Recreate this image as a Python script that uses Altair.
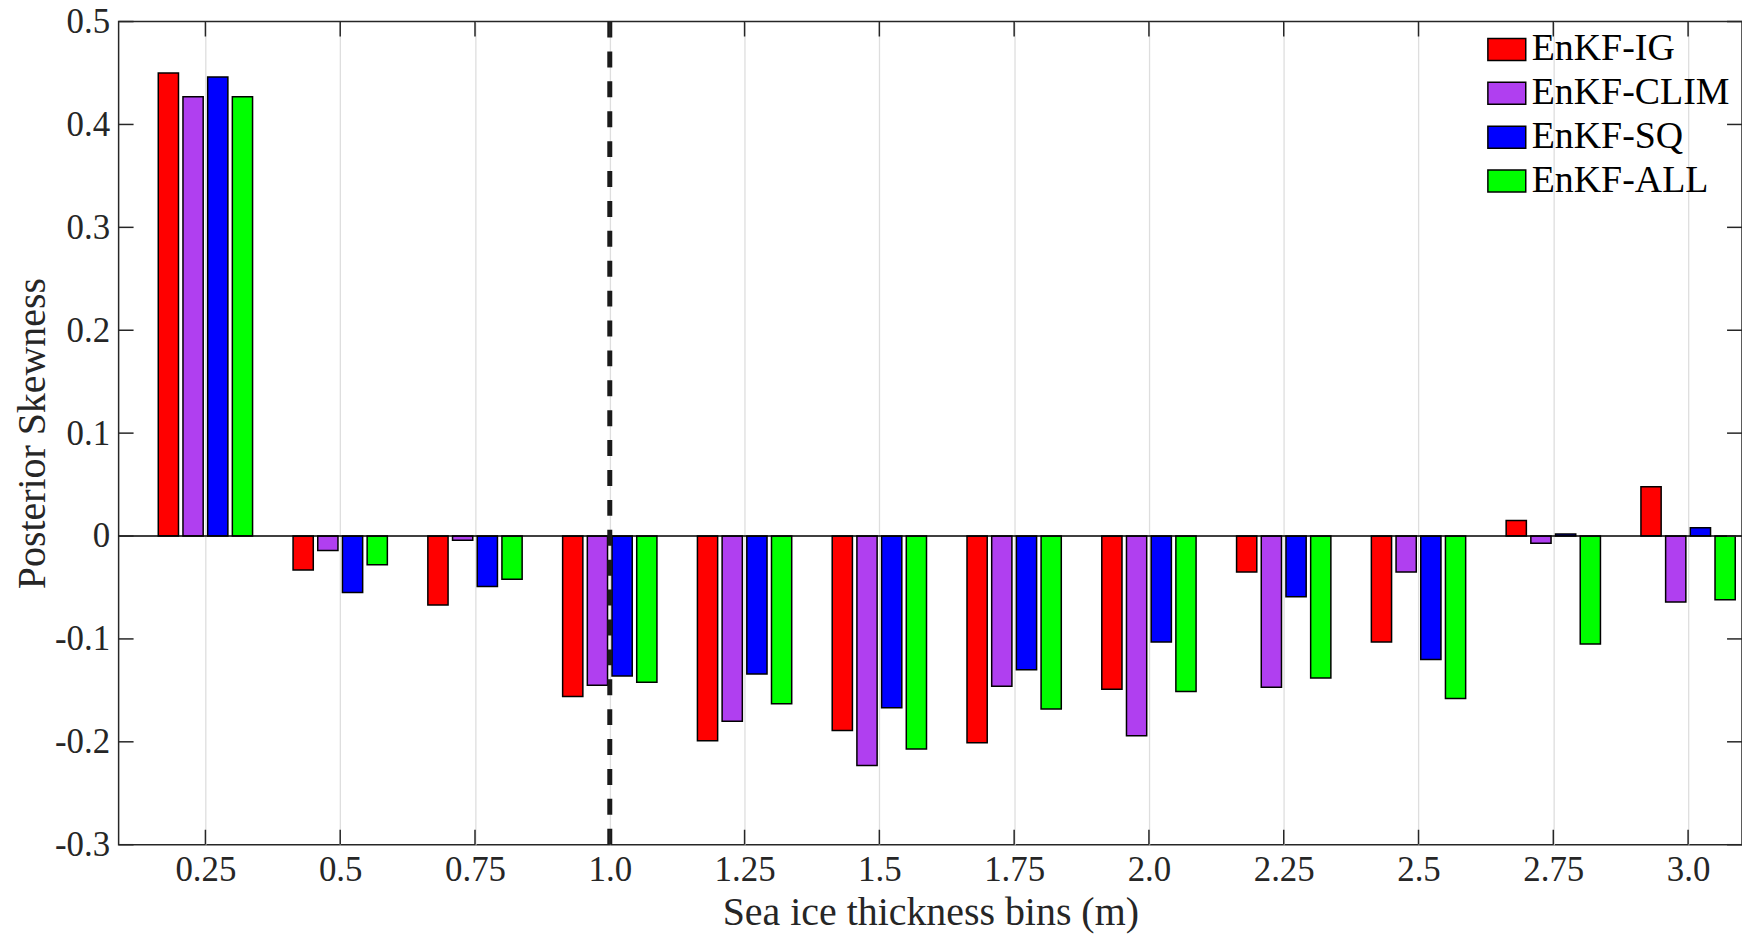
import altair as alt
import pandas as pd

# ---- data ----
bins = [0.25, 0.5, 0.75, 1.0, 1.25, 1.5, 1.75, 2.0, 2.25, 2.5, 2.75, 3.0]
methods = ["EnKF-IG", "EnKF-CLIM", "EnKF-SQ", "EnKF-ALL"]
colors = ["#FF0000", "#B03FF0", "#0000FF", "#00FF00"]

enkf_ig = [0.450, -0.033, -0.067, -0.156, -0.199, -0.189, -0.201, -0.149, -0.035, -0.103, 0.015, 0.048]
enkf_clim = [0.427, -0.014, -0.004, -0.145, -0.180, -0.223, -0.146, -0.194, -0.147, -0.035, -0.007, -0.064]
enkf_sq = [0.446, -0.055, -0.049, -0.136, -0.134, -0.167, -0.130, -0.103, -0.059, -0.120, 0.002, 0.008]
enkf_all = [0.427, -0.028, -0.042, -0.142, -0.163, -0.207, -0.168, -0.151, -0.138, -0.158, -0.105, -0.062]

y_ticks = [-0.3, -0.2, -0.1, 0.0, 0.1, 0.2, 0.3, 0.4, 0.5]
threshold = [1.0]

series = [enkf_ig, enkf_clim, enkf_sq, enkf_all]
rows = []
for m, vals in zip(methods, series):
    for b, v in zip(bins, vals):
        rows.append({"bin": b, "method": m, "value": v})
df = pd.DataFrame(rows)

W, H = 1629, 826
FONT = "Liberation Serif"
INK = "#262626"

xscale = alt.Scale(domain=[0.089, 3.1], nice=False, zero=False)
yscale = alt.Scale(domain=[-0.3, 0.5], nice=False, zero=False)

x_axis = alt.Axis(
    values=bins,
    labelExpr="datum.value % 1 == 0 ? format(datum.value, '.1f') : format(datum.value, '.2~f')",
    title="Sea ice thickness bins (m)",
    grid=True,
    gridColor="#dedede",
    gridWidth=1.3,
    ticks=False,
    tickSize=0,
    domain=False,
    labelFont=FONT,
    labelFontSize=35,
    labelColor=INK,
    labelBaseline="alphabetic",
    labelPadding=36,
    labelFlush=False,
    labelOverlap=False,
    titleFont=FONT,
    titleFontSize=40,
    titleFontWeight="normal",
    titleColor=INK,
    titleBaseline="alphabetic",
    titleY=80,
)
y_axis = alt.Axis(
    values=y_ticks,
    labelExpr="abs(datum.value) < 1e-9 ? '0' : (datum.value < 0 ? '-' : '') + format(abs(datum.value), '.1f')",
    title="Posterior Skewness",
    grid=False,
    ticks=False,
    tickSize=0,
    domain=False,
    labelFont=FONT,
    labelFontSize=35,
    labelColor=INK,
    labelPadding=9,
    labelFlush=False,
    labelOverlap=False,
    titleFont=FONT,
    titleFontSize=40,
    titleFontWeight="normal",
    titleColor=INK,
    titleAngle=270,
    titleBaseline="middle",
    titleX=-86,
    titleY=H / 2,
)

method_list = "[" + ",".join("'" + m + "'" for m in methods) + "]"

bars = alt.Chart(df).transform_calculate(
    k=f"indexof({method_list}, datum.method)"
).transform_calculate(
    x0="datum.bin + (datum.k - 1.5) * 0.0458 - 0.01875",
    x1="datum.bin + (datum.k - 1.5) * 0.0458 + 0.01875",
).mark_bar(stroke="black", strokeWidth=1.5).encode(
    x=alt.X("x0:Q", scale=xscale, axis=x_axis),
    x2="x1:Q",
    y=alt.Y("value:Q", scale=yscale, axis=y_axis),
    y2=alt.datum(0),
    fill=alt.Fill(
        "method:N",
        scale=alt.Scale(domain=methods, range=colors),
        sort=methods,
        legend=alt.Legend(
            title=None,
            orient="none",
            legendX=1373,
            legendY=8,
            symbolType="M-1,-0.58H1V0.58H-1Z",
            symbolSize=1444,
            symbolStrokeColor="black",
            symbolStrokeWidth=1.5,
            symbolOpacity=1,
            labelFont=FONT,
            labelFontSize=38,
            labelColor="black",
            labelOffset=5,
            labelLimit=600,
            rowPadding=5,
            padding=0,
        ),
    ),
)

zero_line = alt.Chart(pd.DataFrame({"z": [0.0]})).mark_rule(
    color="black", strokeWidth=1.5
).encode(y=alt.Y("z:Q", scale=yscale, axis=y_axis))

dash_line = alt.Chart(pd.DataFrame({"t": threshold})).mark_rule(
    color="#1a1a1a", strokeWidth=5, strokeDash=[16, 14]
).encode(x=alt.X("t:Q", scale=xscale, axis=x_axis))

yt = pd.DataFrame({"v": y_ticks})
xt = pd.DataFrame({"b": bins})
TL = 15
tick_style = dict(color=INK, strokeWidth=1.5)
ytick_left = alt.Chart(yt).mark_rule(**tick_style).encode(
    y=alt.Y("v:Q", scale=yscale, axis=y_axis), x=alt.value(0), x2=alt.value(TL))
ytick_right = alt.Chart(yt).mark_rule(**tick_style).encode(
    y=alt.Y("v:Q", scale=yscale, axis=y_axis), x=alt.value(W - TL), x2=alt.value(W))
xtick_bottom = alt.Chart(xt).mark_rule(**tick_style).encode(
    x=alt.X("b:Q", scale=xscale, axis=x_axis), y=alt.value(H - TL), y2=alt.value(H))
xtick_top = alt.Chart(xt).mark_rule(**tick_style).encode(
    x=alt.X("b:Q", scale=xscale, axis=x_axis), y=alt.value(0), y2=alt.value(TL))

chart = alt.layer(
    bars, zero_line, dash_line, ytick_left, ytick_right, xtick_bottom, xtick_top
).properties(
    width=W,
    height=H,
    autosize=alt.AutoSizeParams(type="none"),
    padding={"left": 111, "top": 12, "right": 0, "bottom": 89},
    background="white",
).configure_view(
    stroke=INK, strokeWidth=1.5
)

chart.save("out.html", embed_options={"renderer": "svg", "actions": False})
